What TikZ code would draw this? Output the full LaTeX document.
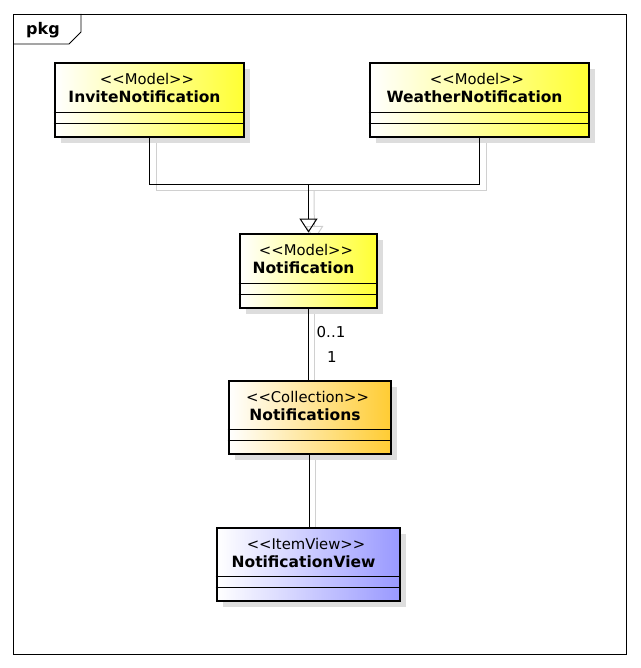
\documentclass[tikz,border=0pt]{standalone}
\usepackage{fontspec}
\setmainfont{DejaVu Sans}
\usetikzlibrary{shadows,calc,arrows.meta}
\definecolor{yel}{HTML}{FFFF33}
\definecolor{org}{HTML}{FFCC33}
\definecolor{blu}{HTML}{9999FF}
\definecolor{shd}{HTML}{DDDDDD}
\definecolor{lshd}{HTML}{D0D0D0}
\begin{document}
\begin{tikzpicture}[x=1pt,y=-1pt,
  cls/.style={draw=black, line width=2.8pt, rectangle, inner sep=0pt, minimum height=74pt,
    drop shadow={shadow xshift=6pt, shadow yshift=-6pt, fill=shd, opacity=1},
    left color=white, shading angle=70},
  stereo/.style={font=\fontsize{14.8}{16}\selectfont, inner sep=0pt},
  cname/.style={font=\fontsize{15.5}{17}\selectfont\bfseries, inner sep=0pt},
  lbl/.style={font=\fontsize{15}{16}\selectfont, inner sep=0pt},
  conn/.style={draw=black, line width=1pt},
  connsh/.style={draw=lshd, line width=1pt},
  gen/.style={-{Triangle[open, length=14pt, width=18pt, line width=1pt]}}
]
\useasboundingbox (0,0) rectangle (640,668);
% frame
\draw[line width=0.8pt] (13,14) rectangle (626,654);
\draw[line width=0.8pt] (13,44) -- (69,44) -- (81,32) -- (81,14);
\node[font=\fontsize{16}{17}\selectfont\bfseries, inner sep=0pt] (pkg) at (43,30) {pkg};

% coordinates for layout
\coordinate (j) at (308.5,185);
\coordinate (js) at (314,191);

% line shadows
\draw[connsh] (156,137) -- (156,191) -- (486,191) -- (486,137);
\draw[connsh, -{Triangle[open, length=14pt, width=18pt, line width=1pt, fill=white]}] (js) -- (314.5,240);
\draw[connsh] (314.5,308) -- (314.5,381);
\draw[connsh] (315.5,454) -- (315.5,528);

% classes
\node[cls, right color=yel, minimum width=189pt] (inv) at (149.5,100) {};
\node[cls, right color=yel, minimum width=219pt] (wea) at (479.5,100) {};
\node[cls, right color=yel, minimum width=137pt] (notif) at (308.5,271) {};
\node[cls, right color=org, minimum width=162pt, minimum height=73pt] (nots) at (310,417.5) {};
\node[cls, right color=blu, minimum width=183pt, minimum height=73pt] (view) at (308.5,564.5) {};

% texts and compartments
\foreach \n/\s/\c in {inv/Model/InviteNotification, wea/Model/WeatherNotification, notif/Model/Notification, nots/Collection/Notifications, view/ItemView/NotificationView}{
  \node[stereo] at ($(\n.north)+(-2.5,17)$) {<{}<\s>{}>};
  \node[cname] at ($(\n.north)+(-5,35)$) {\c};
  \draw[line width=1pt] ($(\n.south west)+(0,-26)$) -- ($(\n.south east)+(0,-26)$);
  \draw[line width=1pt] ($(\n.south west)+(0,-15)$) -- ($(\n.south east)+(0,-15)$);
}

% connectors
\draw[conn] (inv.south) |- (j);
\draw[conn] (wea.south) |- (j);
\draw[conn, gen] (j) -- (notif.north);
\draw[conn] (notif.south) -- (notif.south |- nots.north);
\draw[conn] ($(nots.south)+(-1,0)$) -- ($(nots.south |- view.north)+(-1,0)$);

\node[lbl] (m1) at (331,332) {0..1};
\node[lbl] (m2) at (332,357) {1};
\end{tikzpicture}
\end{document}
